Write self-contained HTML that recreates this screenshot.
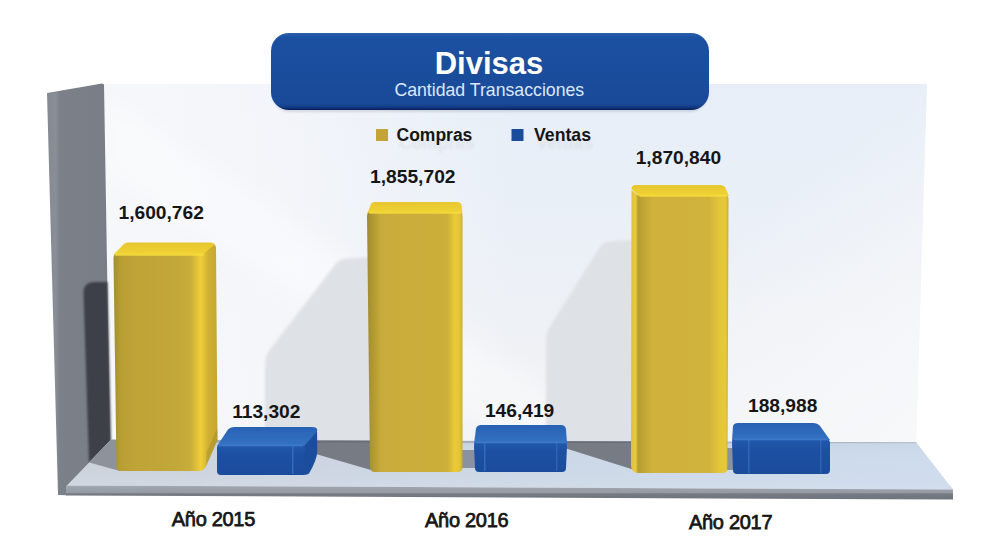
<!DOCTYPE html>
<html>
<head>
<meta charset="utf-8">
<title>Divisas</title>
<style>
html,body{margin:0;padding:0;background:#fff;}
body{width:1000px;height:560px;overflow:hidden;font-family:"Liberation Sans",sans-serif;}
svg{display:block;}
text{font-family:"Liberation Sans",sans-serif;}
.b{font-weight:bold;fill:#161616;}
.v{font-size:19.200px;}
.ax{font-weight:normal;fill:#161616;stroke:#161616;stroke-width:0.75;font-size:20px;letter-spacing:-0.3px;}
</style>
</head>
<body>
<svg width="1000" height="560" viewBox="0 0 1000 560">
<defs>
  <linearGradient id="gPanel" x1="0" y1="0" x2="0" y2="1">
    <stop offset="0" stop-color="#e7eef8"/>
    <stop offset="0.45" stop-color="#ebf0f7"/>
    <stop offset="0.8" stop-color="#f0f2f5"/>
    <stop offset="1" stop-color="#f1f2f4"/>
  </linearGradient>
  <linearGradient id="gPanelD" x1="0" y1="0" x2="1" y2="0">
    <stop offset="0" stop-color="#f7f8fa" stop-opacity="0.9"/>
    <stop offset="0.22" stop-color="#f6f7fa" stop-opacity="0.75"/>
    <stop offset="0.5" stop-color="#f6f8fb" stop-opacity="0"/>
  </linearGradient>
  <linearGradient id="gPanelB" gradientUnits="userSpaceOnUse" x1="920" y1="442" x2="740" y2="230">
    <stop offset="0" stop-color="#f8f9fb" stop-opacity="0.9"/>
    <stop offset="0.5" stop-color="#f7f8fa" stop-opacity="0.55"/>
    <stop offset="1" stop-color="#f7f8fa" stop-opacity="0"/>
  </linearGradient>
  <linearGradient id="gWall" gradientUnits="userSpaceOnUse" x1="47" y1="0" x2="110" y2="0">
    <stop offset="0" stop-color="#858a92"/>
    <stop offset="0.14" stop-color="#8a8f97"/>
    <stop offset="0.2" stop-color="#7c8189"/>
    <stop offset="1" stop-color="#787d86"/>
  </linearGradient>
  <linearGradient id="gFloor" gradientUnits="userSpaceOnUse" x1="60" y1="0" x2="950" y2="0">
    <stop offset="0" stop-color="#cdd2da"/>
    <stop offset="0.3" stop-color="#ccd5e1"/>
    <stop offset="0.7" stop-color="#cddaea"/>
    <stop offset="1" stop-color="#cedcee"/>
  </linearGradient>
  <linearGradient id="gFloorV" x1="0" y1="0" x2="0" y2="1">
    <stop offset="0" stop-color="#9aa3af" stop-opacity="0.9"/>
    <stop offset="0.05" stop-color="#9aa3af" stop-opacity="0.8"/>
    <stop offset="0.08" stop-color="#c4d1e2" stop-opacity="0.5"/>
    <stop offset="0.5" stop-color="#cfdae8" stop-opacity="0"/>
    <stop offset="1" stop-color="#d8e0ea" stop-opacity="0.5"/>
  </linearGradient>
  <linearGradient id="gFloorFront" x1="0" y1="0" x2="0" y2="1">
    <stop offset="0" stop-color="#a7adb6"/>
    <stop offset="0.15" stop-color="#9da3ac"/>
    <stop offset="0.5" stop-color="#959aa3"/>
    <stop offset="0.6" stop-color="#767a82"/>
    <stop offset="1" stop-color="#6f737b"/>
  </linearGradient>
  <linearGradient id="gY1" x1="0" y1="0" x2="1" y2="0">
    <stop offset="0" stop-color="#a38e2e"/>
    <stop offset="0.07" stop-color="#b89f34"/>
    <stop offset="0.2" stop-color="#bfa337"/>
    <stop offset="0.6" stop-color="#c2a73a"/>
    <stop offset="0.74" stop-color="#c9ad3a"/>
    <stop offset="0.84" stop-color="#f0cf38"/>
    <stop offset="0.91" stop-color="#d0b134"/>
    <stop offset="1" stop-color="#c4a630"/>
  </linearGradient>
  <linearGradient id="gY2" x1="0" y1="0" x2="1" y2="0">
    <stop offset="0" stop-color="#a08c30"/>
    <stop offset="0.07" stop-color="#b39a33"/>
    <stop offset="0.15" stop-color="#c8ab3a"/>
    <stop offset="0.84" stop-color="#ccaf3a"/>
    <stop offset="0.92" stop-color="#ebcc36"/>
    <stop offset="0.97" stop-color="#e2c438"/>
    <stop offset="1" stop-color="#c8ab38"/>
  </linearGradient>
  <linearGradient id="gY3" x1="0" y1="0" x2="1" y2="0">
    <stop offset="0" stop-color="#dcc040"/>
    <stop offset="0.045" stop-color="#e8cc3c"/>
    <stop offset="0.075" stop-color="#b59c32"/>
    <stop offset="0.14" stop-color="#c3a736"/>
    <stop offset="0.22" stop-color="#cfb13b"/>
    <stop offset="0.8" stop-color="#d0b33b"/>
    <stop offset="0.9" stop-color="#e3c53a"/>
    <stop offset="0.97" stop-color="#e6c838"/>
    <stop offset="1" stop-color="#c8ab38"/>
  </linearGradient>
  <linearGradient id="gYellowTop" x1="0" y1="0" x2="0" y2="1">
    <stop offset="0" stop-color="#e6c62e"/>
    <stop offset="0.7" stop-color="#efd033"/>
    <stop offset="1" stop-color="#f4d83a"/>
  </linearGradient>
  <linearGradient id="gBlueFront" x1="0" y1="0" x2="0" y2="1">
    <stop offset="0" stop-color="#2259ad"/>
    <stop offset="0.3" stop-color="#1d50a2"/>
    <stop offset="1" stop-color="#1b4c9c"/>
  </linearGradient>
  <linearGradient id="gBlueTop" x1="0" y1="0" x2="0" y2="1">
    <stop offset="0" stop-color="#2861b3"/>
    <stop offset="1" stop-color="#3573c4"/>
  </linearGradient>
  <linearGradient id="gTitle" x1="0" y1="0" x2="0" y2="1">
    <stop offset="0" stop-color="#2a5fae"/>
    <stop offset="0.06" stop-color="#1c50a1"/>
    <stop offset="0.92" stop-color="#194a99"/>
    <stop offset="0.965" stop-color="#123a82"/>
    <stop offset="0.985" stop-color="#0c2766"/>
    <stop offset="1" stop-color="#0a1f5c"/>
  </linearGradient>
  <filter id="blur2" x="-10%" y="-10%" width="120%" height="120%"><feGaussianBlur stdDeviation="1.8"/></filter>
  <filter id="blur12" x="-20%" y="-20%" width="140%" height="140%"><feGaussianBlur stdDeviation="12"/></filter>
  <filter id="blur1" x="-10%" y="-10%" width="120%" height="120%"><feGaussianBlur stdDeviation="0.8"/></filter>
  <filter id="soft" x="-5%" y="-5%" width="110%" height="110%"><feGaussianBlur stdDeviation="0.5"/></filter>
  <filter id="tblur" x="-20%" y="-50%" width="140%" height="200%"><feGaussianBlur stdDeviation="1.6"/></filter>
  <clipPath id="cPanel"><polygon points="104,84 927,84 916,442 110,442"/></clipPath>
  <clipPath id="cFloor"><polygon points="111,439.800 916,442.300 953,489.500 67,485.500"/></clipPath>
</defs>

<!-- back panel -->
<polygon points="104,84 927,84 916,442 110,442" fill="url(#gPanel)"/>
<polygon points="104,84 927,84 916,442 110,442" fill="url(#gPanelD)"/>
<polygon points="104,84 927,84 916,442 110,442" fill="url(#gPanelB)"/>

<g clip-path="url(#cPanel)"><polygon points="104,92 104,170 517,446 626,446" fill="#ffffff" opacity="0.4" filter="url(#blur12)"/></g>
<!-- wall shadows of bars 2 and 3 -->
<g filter="url(#blur2)" fill="#dee1e5" clip-path="url(#cPanel)">
  <path d="M347,258.500 L372,257 L372,446 L265,446 L265,364 Q265,356 270,349.500 L336,263.500 Q340,258.500 347,258.500 Z"/>
  <path d="M610,241.500 L636,240 L636,446 L546,446 L546,340 Q546,333 550,326.500 L600,247 Q603.500,241.500 610,241.500 Z"/>
</g>

<!-- left wall -->
<polygon points="47,93 102,83.500 104,84.500 110,442 67,486 67,495.300 58,495" fill="url(#gWall)"/>
<!-- bar1 shadow on wall -->
<path d="M83.500,293 Q83.500,282 95,282 L107.500,282 L111,441 L89,463 Z" fill="#3d414a" filter="url(#blur1)"/>

<!-- floor -->
<polygon points="111,439.800 916,442.300 953,489.500 67,485.500" fill="url(#gFloor)"/>
<polygon points="111,439.800 916,442.300 953,489.500 67,485.500" fill="url(#gFloorV)"/>
<polygon points="66,485.500 953,489.500 953,499.500 66,495.500" fill="url(#gFloorFront)"/>

<!-- floor shadows -->
<g filter="url(#soft)" clip-path="url(#cFloor)">
  <polygon points="108,438 120,438 120,471 89,462.500" fill="#8e939b"/>
  <polygon points="264,439 371,439 371,470" fill="#777c84"/>
  <polygon points="536,439 633,439 633,469.500" fill="#777c84"/>
  <rect x="264" y="440" width="108" height="2.500" fill="#696e76"/>
  <rect x="462" y="450" width="14" height="18" fill="#8a91a1"/>
  <rect x="727" y="448" width="7" height="22" fill="#8a91a1"/>
  <rect x="536" y="440.500" width="98" height="2.500" fill="#696e76"/>
</g>

<!-- Yellow bar 1 -->
<g>
  <path d="M113,255 L124,244 Q125.500,242.500 128,242.500 L211,242.500 Q216,243 215,247 L206,256 Z" fill="url(#gYellowTop)"/>
  <path d="M113.500,258 Q113.500,254 117.500,254 L203,254 L214,245 Q216,245 216,248 L217.500,440 L206,466 Q204,471 199,471 L121,471 Q116.500,471 116.500,466 Z" fill="url(#gY1)"/>
  <path d="M206,467 L217.500,440 L217.500,428 L206.500,452 Z" fill="#8c7a2a" opacity="0.3"/>
  <rect x="115" y="253.700" width="89" height="2" rx="1" fill="#f6dc3c" opacity="0.9"/>
</g>
<!-- Blue bar 1 -->
<g>
  <path d="M300,446 L317,430 L317.300,451 Q317,460 309,473.500 Q307,475 300,475 Z" fill="#1c4d9d"/>
  <path d="M217,446 L228,429.500 Q230,427 234,427 L312,427 Q318.500,427 317,431.500 L304,446 Z" fill="url(#gBlueTop)"/>
  <path d="M217,448 Q217,445 220,445 L301,445 Q305,445 305,448 L303,471 Q303,475 299,475 L221,475 Q217,475 217,471 Z" fill="url(#gBlueFront)"/>
  <rect x="292" y="446" width="1.500" height="28" fill="#3d78c8" opacity="0.7"/>
  <rect x="219" y="444.800" width="84" height="1.500" fill="#4a86d4" opacity="0.7"/>
</g>

<!-- Yellow bar 2 -->
<g>
  <path d="M367,214 L371,204 Q372,202 375,202 L456,202 Q461,202 461.500,205 L462.500,214 Z" fill="url(#gYellowTop)"/>
  <path d="M367,216 Q367,212 371,212 L458.500,212 Q462.500,212 462.500,216 L462.500,467 Q462.500,472 457.500,472 L375,472 Q370,472 370,467 Z" fill="url(#gY2)"/>
  <rect x="369" y="211.700" width="92" height="2" rx="1" fill="#f6dc3c" opacity="0.9"/>
</g>
<!-- Blue bar 2 -->
<g>
  <path d="M474,444 L476,428.500 Q477,425 481,425 L561,425 Q565,425 566,429 L567,444 Z" fill="url(#gBlueTop)"/>
  <path d="M474,446 Q474,442 478,442 L563,442 Q567,442 567,446 L566,468 Q566,472 562,472 L479,472 Q475,472 475,468 Z" fill="url(#gBlueFront)"/>
  <rect x="484" y="443" width="1.500" height="28" fill="#3d78c8" opacity="0.7"/>
  <rect x="556" y="443" width="1.500" height="28" fill="#3d78c8" opacity="0.5"/>
  <rect x="476" y="441.800" width="89" height="1.500" fill="#4a86d4" opacity="0.7"/>
</g>

<!-- Yellow bar 3 -->
<g>
  <path d="M631.500,189 Q631.500,185 636,185 L720,185 Q723,185 725,187 L729,196 L640,197 Z" fill="url(#gYellowTop)"/>
  <path d="M631.500,190 L638,195.500 L724.500,195 Q728.500,195 728.500,199 L727.500,468 Q727.500,473 722.500,473 L638,473 Q632,473 631,466 Z" fill="url(#gY3)"/>
  <rect x="639" y="194.700" width="88" height="2" rx="1" fill="#f6dc3c" opacity="0.9"/>
</g>
<!-- Blue bar 3 -->
<g>
  <path d="M732,441 L733,426 Q734,423 738,423 L813,423 Q817.500,423 820,426 L830,440 Z" fill="url(#gBlueTop)"/>
  <path d="M732,443 Q732,439 736,439 L826,439 Q830,439 830,443 L830,470 Q830,474 826,474 L737,474 Q733,474 733,470 Z" fill="url(#gBlueFront)"/>
  <rect x="748" y="440" width="1.500" height="33" fill="#3d78c8" opacity="0.6"/>
  <rect x="820" y="440" width="1.500" height="33" fill="#3d78c8" opacity="0.5"/>
  <rect x="734" y="438.800" width="94" height="1.500" fill="#4a86d4" opacity="0.7"/>
</g>

<!-- title -->
<rect x="272" y="36" width="436" height="76" rx="18" ry="18" fill="#9aa3b3" opacity="0.35" filter="url(#blur1)"/>
<rect x="271" y="33" width="438" height="77" rx="18" ry="18" fill="url(#gTitle)"/>
<text x="489" y="73.500" text-anchor="middle" font-size="31" font-weight="bold" fill="#ffffff">Divisas</text>
<text x="489.300" y="95.500" text-anchor="middle" font-size="17.700" fill="#dbe8fb">Cantidad Transacciones</text>

<!-- legend -->
<g opacity="0.06" filter="url(#tblur)">
  <text class="b" x="399" y="149" font-size="17.500">Compras</text>
  <text class="b" x="536.500" y="149" font-size="17.500">Ventas</text>
</g>
<rect x="376" y="129" width="12" height="12" fill="#c4a436"/>
<text class="b" x="396.500" y="141" font-size="17.500">Compras</text>
<rect x="511.500" y="129" width="12" height="12" fill="#1b4c9c"/>
<text class="b" x="534" y="141" font-size="17.700">Ventas</text>

<!-- value labels -->
<text class="b v" x="161.200" y="218.500" text-anchor="middle">1,600,762</text>
<text class="b v" x="412.800" y="183" text-anchor="middle">1,855,702</text>
<text class="b v" x="678.400" y="163.500" text-anchor="middle">1,870,840</text>
<text class="b v" x="266.300" y="417.500" text-anchor="middle">113,302</text>
<text class="b v" x="519.600" y="416.500" text-anchor="middle">146,419</text>
<text class="b v" x="782.700" y="411.500" text-anchor="middle">188,988</text>

<!-- axis labels -->
<text class="ax" x="213.400" y="526" text-anchor="middle">Año 2015</text>
<text class="ax" x="466.700" y="527" text-anchor="middle">Año 2016</text>
<text class="ax" x="730.600" y="528.500" text-anchor="middle">Año 2017</text>
</svg>
</body>
</html>
